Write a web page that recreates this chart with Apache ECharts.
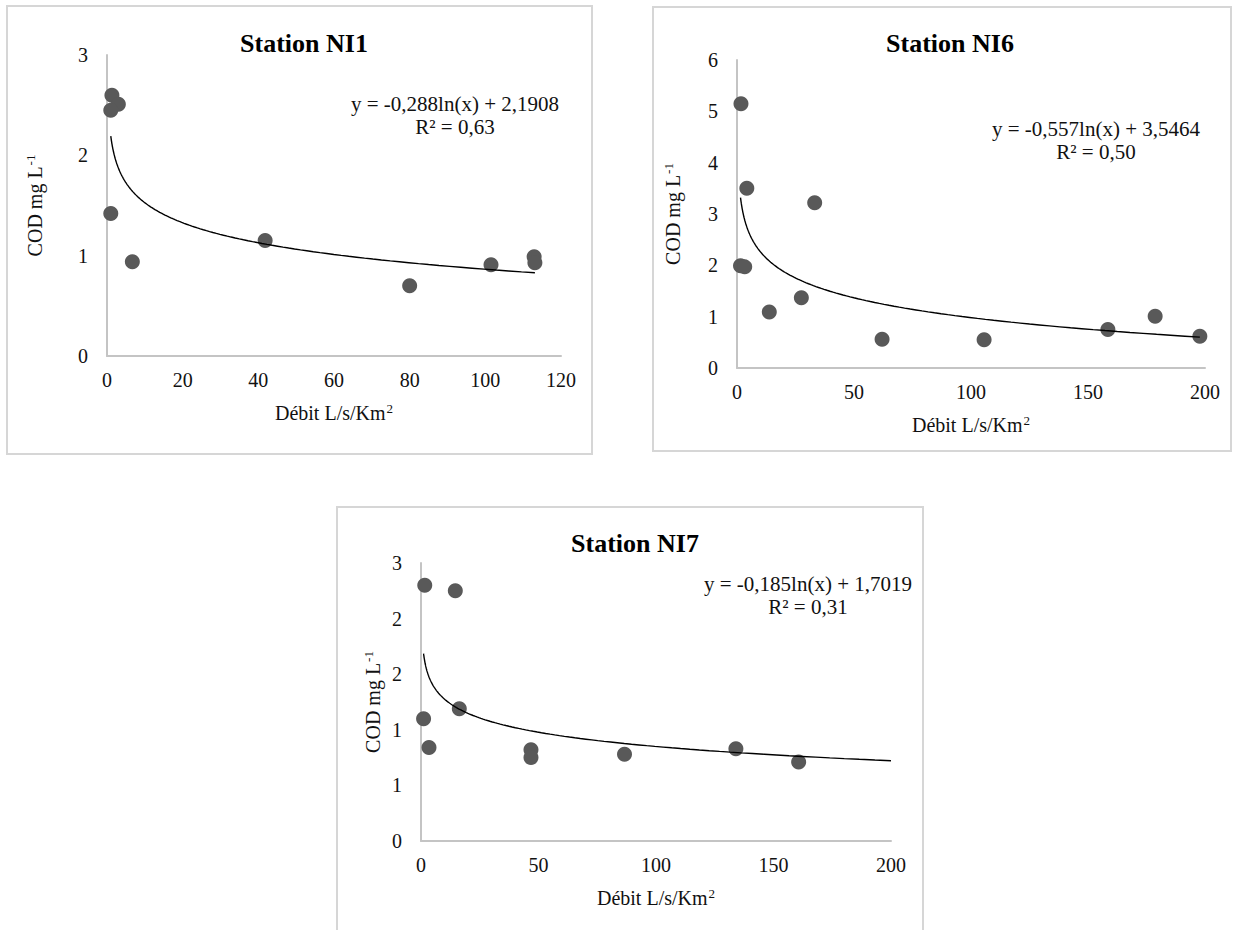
<!DOCTYPE html>
<html>
<head>
<meta charset="utf-8">
<script src="https://cdn.jsdelivr.net/npm/echarts@6/dist/echarts.min.js"></script>
<style>
  html, body { margin: 0; padding: 0; background: #ffffff; }
  #chart { width: 1234px; height: 930px; }
</style>
</head>
<body>
<div id="chart"></div>
<script>
// ---------- data ----------
const chartTitles = ['Station NI1', 'Station NI6', 'Station NI7'];

const ni1X = [1.3, 3.0, 1.0, 1.0, 6.7, 41.8, 80.0, 101.5, 112.9, 113.1];
const ni1Y = [2.60, 2.51, 2.45, 1.42, 0.94, 1.15, 0.70, 0.91, 0.99, 0.93];

const ni6X = [1.7, 4.2, 33.2, 1.5, 3.3, 13.8, 27.5, 62.0, 105.6, 158.5, 178.7, 197.8];
const ni6Y = [5.15, 3.50, 3.22, 1.99, 1.97, 1.09, 1.37, 0.56, 0.55, 0.75, 1.01, 0.62];

const ni7X = [1.6, 14.6, 16.3, 1.1, 3.4, 46.8, 46.8, 86.6, 134.0, 160.7];
const ni7Y = [2.30, 2.25, 1.19, 1.10, 0.84, 0.82, 0.75, 0.78, 0.83, 0.71];

// logarithmic trend lines: y = a*ln(x) + b  (coefficients printed on the chart)
const trendCoefs = [[-0.288, 2.1908], [-0.557, 3.5464], [-0.185, 1.7019]];
const trendRanges = [[1.0, 113.1], [1.5, 197.8], [1.1, 200]];
const equationTexts = [
  ['y = -0,288ln(x) + 2,1908', 'R² = 0,63'],
  ['y = -0,557ln(x) + 3,5464', 'R² = 0,50'],
  ['y = -0,185ln(x) + 1,7019', 'R² = 0,31']
];

// axis settings
const xAxisMax = [120, 200, 200];
const xAxisStep = [20, 50, 50];
const yAxisMax = [3, 6, 2.5];
const yAxisStep = [1, 1, 0.5];
const ni7YTickLabels = ['0', '1', '1', '2', '2', '3'];

const xAxisTitle = 'Débit L/s/Km{sup|2}';
const yAxisTitle = 'COD mg L{sup|-1}';

// ---------- layout ----------
const FONT = 'Liberation Serif, Times New Roman, serif';
const grids = [
  { left: 107, top: 55, width: 454, height: 301 },
  { left: 737, top: 60, width: 468, height: 308 },
  { left: 421, top: 563, width: 470, height: 278 }
];
const boxes = [
  { x: 7, y: 6, width: 585, height: 448 },
  { x: 653, y: 7, width: 578, height: 444 },
  { x: 337, y: 507, width: 586, height: 440 }
];
const titlePos = [[299, 25], [945, 25], [630, 525]];
const eqPos = [[455, 103], [1096, 128], [808, 583]];
const yNameGap = [62, 54, 38];

const supStyle = { fontFamily: FONT, fontSize: 13, color: '#111', verticalAlign: 'top', padding: [0, 0, 8, 1] };
const baseText = { fontFamily: FONT, fontSize: 20, color: '#111' };

function trendPoints(coef, range) {
  const pts = [];
  const n = 150;
  for (let i = 0; i < n; i++) {
    const x = range[0] * Math.pow(range[1] / range[0], i / (n - 1));
    pts.push([x, coef[0] * Math.log(x) + coef[1]]);
  }
  return pts;
}

const xs = [ni1X, ni6X, ni7X];
const ys = [ni1Y, ni6Y, ni7Y];

const option = {
  backgroundColor: '#ffffff',
  animation: false,
  title: chartTitles.map((t, i) => ({
    text: t, left: titlePos[i][0], top: titlePos[i][1], textAlign: 'center',
    textStyle: { fontFamily: FONT, fontSize: 26, fontWeight: 'bold', color: '#000' }
  })),
  grid: grids,
  xAxis: grids.map((g, i) => ({
    type: 'value', gridIndex: i, min: 0, max: xAxisMax[i], interval: xAxisStep[i],
    axisLine: { show: true, onZero: false, lineStyle: { color: '#c4c4c4', width: 2 } },
    axisTick: { show: false }, splitLine: { show: false },
    axisLabel: { margin: 14, fontFamily: FONT, fontSize: 20, color: '#111' },
    name: xAxisTitle, nameLocation: 'middle', nameGap: 46,
    nameTextStyle: Object.assign({}, baseText, { rich: { sup: supStyle } })
  })),
  yAxis: grids.map((g, i) => ({
    type: 'value', gridIndex: i, min: 0, max: yAxisMax[i], interval: yAxisStep[i],
    axisLine: { show: true, onZero: false, lineStyle: { color: '#c4c4c4', width: 2 } },
    axisTick: { show: false }, splitLine: { show: false },
    axisLabel: {
      margin: 19, fontFamily: FONT, fontSize: 20, color: '#111',
      formatter: i === 2 ? (v => ni7YTickLabels[Math.round(v / yAxisStep[2])]) : (v => String(v))
    },
    name: yAxisTitle, nameLocation: 'middle', nameGap: yNameGap[i],
    nameTextStyle: Object.assign({}, baseText, { rich: { sup: supStyle } })
  })),
  series: [].concat(
    xs.map((arr, i) => ({
      type: 'scatter', xAxisIndex: i, yAxisIndex: i, symbol: 'circle', symbolSize: 15,
      itemStyle: { color: '#595959', opacity: 1 },
      data: arr.map((x, k) => [x, ys[i][k]]), z: 3
    })),
    trendCoefs.map((c, i) => ({
      type: 'line', xAxisIndex: i, yAxisIndex: i, showSymbol: false, symbol: 'none',
      lineStyle: { color: '#000', width: 1.4 }, data: trendPoints(c, trendRanges[i]), z: 4
    }))
  ),
  graphic: [].concat(
    boxes.map(b => ({ type: 'rect', shape: b, style: { fill: 'rgba(0,0,0,0)', stroke: '#d6d6d6', lineWidth: 2 }, silent: true, z: -10 })),
    equationTexts.map((lines, i) => ({
      type: 'text', x: eqPos[i][0], y: eqPos[i][1] - 11,
      style: { text: lines.join('\n'), fontFamily: FONT, fontSize: 21, lineHeight: 23, fill: '#111', textAlign: 'center', textVerticalAlign: 'top' },
      silent: true, z: 10
    }))
  )
};

const chart = echarts.init(document.getElementById('chart'), null, { renderer: 'svg', width: 1234, height: 930 });
chart.setOption(option);
</script>
</body>
</html>
